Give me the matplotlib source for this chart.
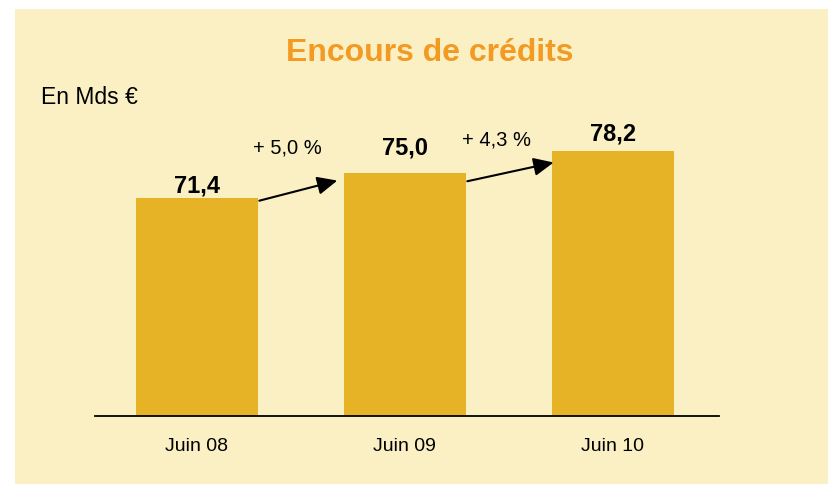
import matplotlib.pyplot as plt
from matplotlib.patches import Rectangle

# Données
categories = ['Juin 08', 'Juin 09', 'Juin 10']
encours = [71.4, 75.0, 78.2]
value_labels = ['71,4', '75,0', '78,2']
growth_labels = ['+ 5,0 %', '+ 4,3 %']

plt.rcParams['font.family'] = ['Liberation Sans', 'DejaVu Sans']

BG = '#FAF0C4'
BAR = '#E5B325'
ORANGE = '#F39A22'

fig = plt.figure(figsize=(8.29, 4.86), dpi=100)
fig.patch.set_facecolor('white')
fig.patches.append(Rectangle((15 / 829, 2 / 486), 1, 475 / 486,
                             transform=fig.transFigure, facecolor=BG,
                             edgecolor='none', zorder=-10))

ax = fig.add_axes([95 / 829, 70 / 486, 624 / 829, 316 / 486])
ax.set_facecolor('none')

width = 0.59
x = range(len(categories))
ax.bar(x, encours, width=width, color=BAR, bottom=0)
ax.set_ylim(40, 85.5)
ax.set_xlim(-0.49, 2.51)

for s in ['top', 'right', 'left']:
    ax.spines[s].set_visible(False)
ax.spines['bottom'].set_linewidth(1.3)
ax.set_yticks([])
ax.set_xticks(list(x))
ax.set_xticklabels(categories, fontsize=14)
ax.tick_params(axis='x', length=0, pad=16)

# étiquettes des valeurs (décalage vertical en points)
label_dy = [0, 10, 4]
for i, (v, lab) in enumerate(zip(encours, value_labels)):
    ax.annotate(lab, (i, v), xytext=(0, label_dy[i]), textcoords='offset points',
                ha='center', va='bottom', fontsize=17, fontweight='bold')

# flèches de croissance
start_dy = [-0.4, -1.2]
end_dy = [-1.1, -1.7]
end_dx = [-0.03, 0.01]
growth_pos = [(0.435, 78.6), (1.44, 79.8)]
for i, g in enumerate(growth_labels):
    x0 = i + width / 2 + 0.005
    x1 = i + 1 - width / 2 + end_dx[i]
    ax.annotate('', xy=(x1, encours[i + 1] + end_dy[i]),
                xytext=(x0, encours[i] + start_dy[i]),
                arrowprops=dict(arrowstyle='-|>,head_length=0.55,head_width=0.25',
                                color='black', lw=1.5,
                                mutation_scale=22, shrinkA=0, shrinkB=0))
    ax.text(growth_pos[i][0], growth_pos[i][1], g, ha='center', va='center',
            fontsize=14.5)

fig.text(430 / 829, 1 - 53 / 486, 'Encours de crédits', ha='center', va='center',
         fontsize=23, fontweight='bold', color=ORANGE)
fig.text(41 / 829, 1 - 97 / 486, 'En Mds €', ha='left', va='center', fontsize=16.5)

plt.savefig('out.png', dpi=100, facecolor=fig.get_facecolor())
